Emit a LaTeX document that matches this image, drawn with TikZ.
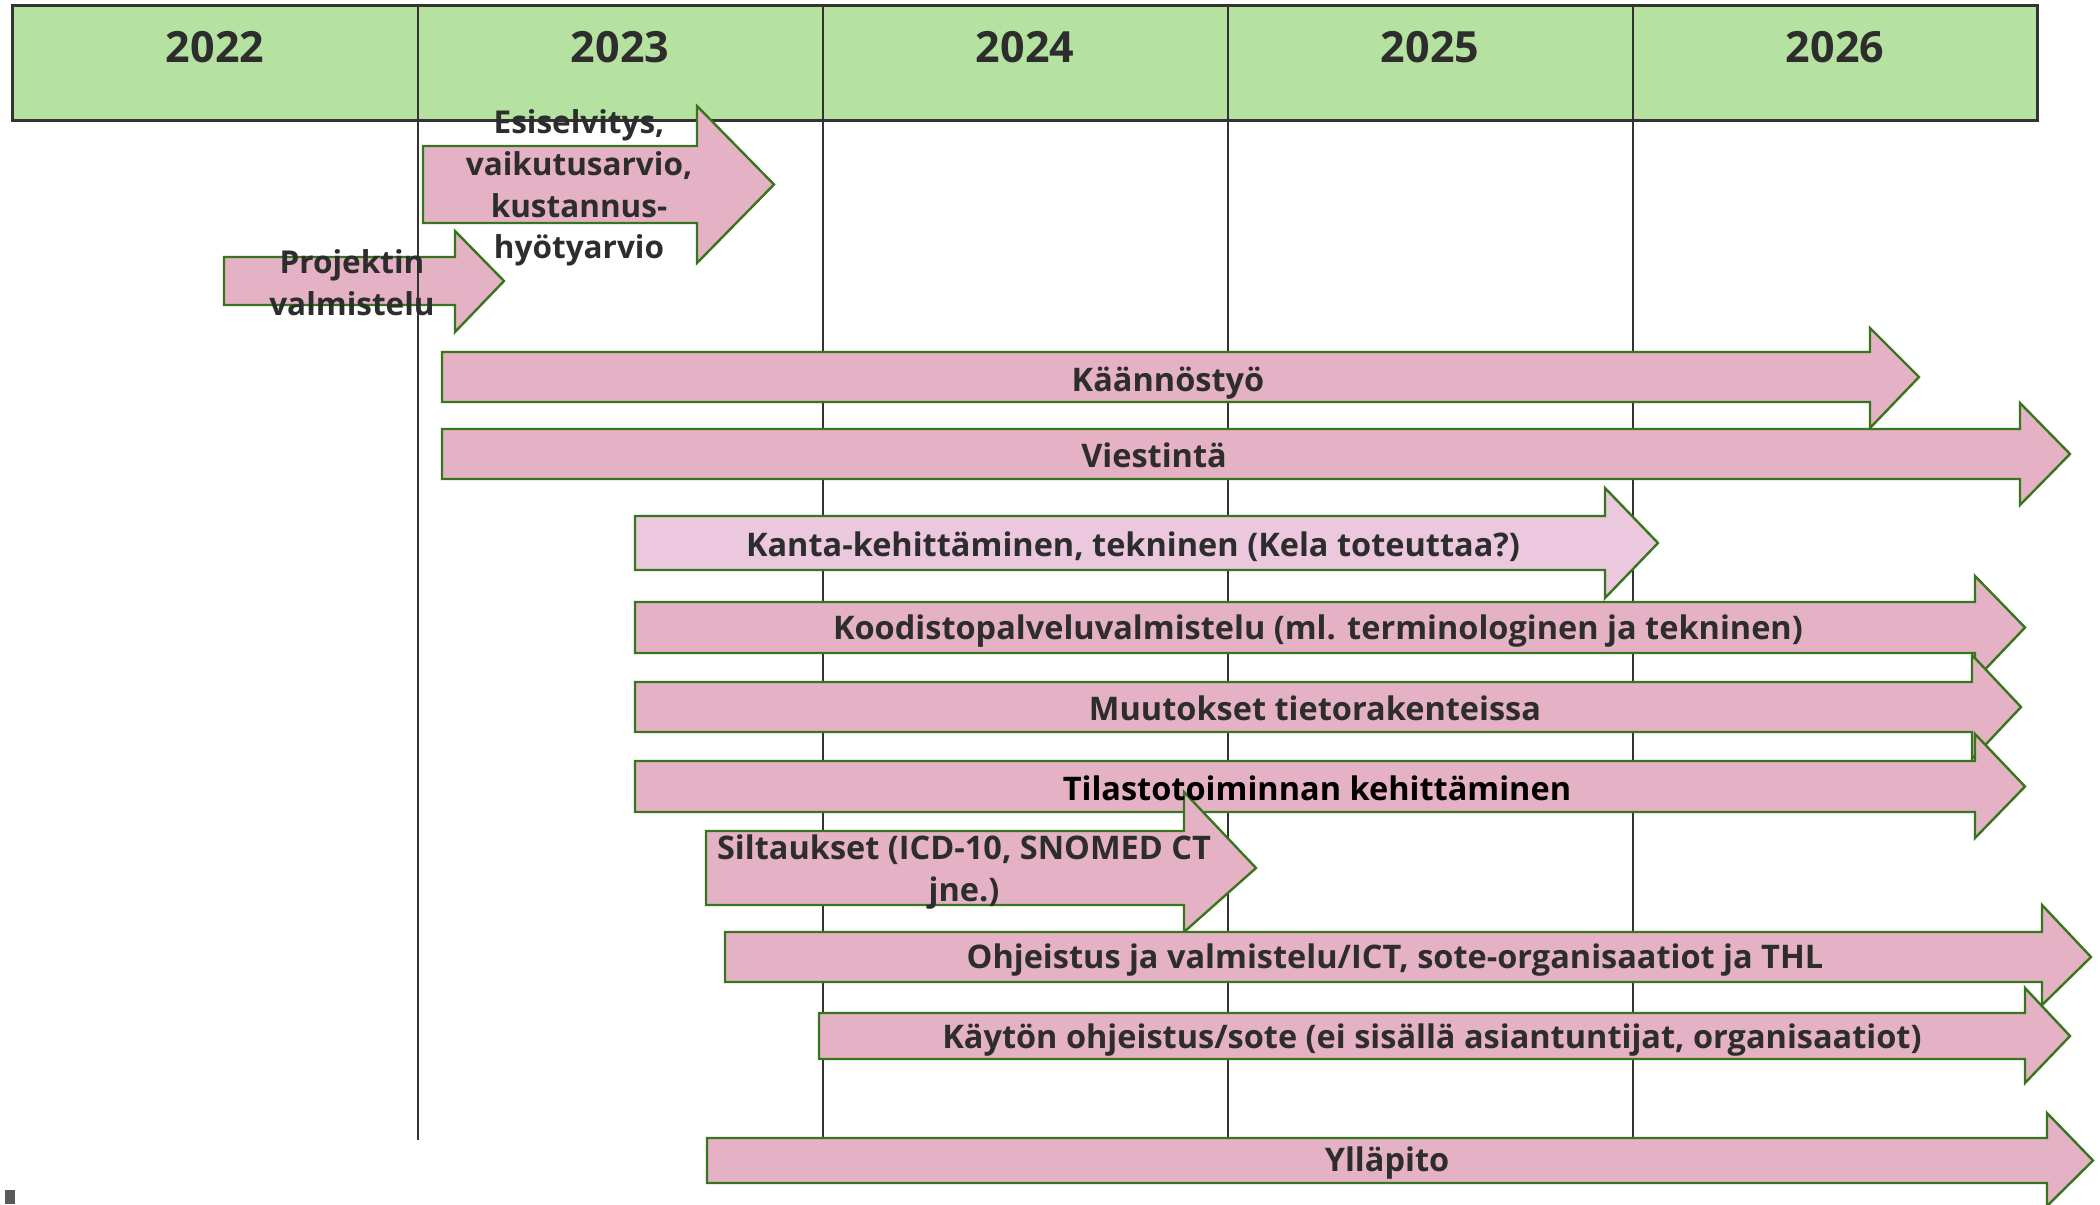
\documentclass[tikz,border=0pt]{standalone}
\usepackage{fontspec}
\setmainfont{Open Sans}
\definecolor{hdrgreen}{RGB}{182,226,161}
\definecolor{arrpink}{RGB}{229,178,197}
\definecolor{arrlight}{RGB}{235,200,221}
\definecolor{arrline}{RGB}{56,118,29}
\definecolor{gridgray}{RGB}{51,51,51}
\definecolor{txtgray}{RGB}{45,45,45}
\definecolor{markgray}{RGB}{90,90,90}
\tikzset{
  arrbox/.style={fill=arrpink, draw=arrline, line width=2.4pt, line join=miter},
  arrlite/.style={arrbox, fill=arrlight},
  gridline/.style={draw=gridgray, line width=2pt},
  hdrframe/.style={draw=gridgray, line width=3pt},
  yearlbl/.style={font=\bfseries\fontsize{43}{50}\selectfont, text=txtgray, inner sep=0pt},
  lbl/.style={font=\bfseries\fontsize{32.5}{41.8}\selectfont, text=txtgray, inner sep=0pt, align=center},
  lblnarrow/.style={lbl, font=\bfseries\fontsize{31.5}{41.8}\selectfont},
}
% #1 style, #2 x0, #3 body top, #4 body bottom, #5 head base x, #6 head top, #7 head bottom, #8 tip x
\newcommand\harr[8]{\path[#1] (#2,#3) -- (#5,#3) -- (#5,#6) -- (#8,{(#3+#4)/2}) -- (#5,#7) -- (#5,#4) -- (#2,#4) -- cycle;}
\begin{document}
\begin{tikzpicture}[x=1pt,y=-1pt]
\useasboundingbox (0,0) rectangle (2100,1204);
% header
\fill[hdrgreen] (12,6) rectangle (2037,121);
\foreach \xx in {823,1228,1633} {\draw[gridline] (\xx,6) -- (\xx,1137);}
\draw[hdrframe] (12,6) rectangle (2037,121);
\node[yearlbl] (y22) at (215,47) {2022};
\node[yearlbl] (y23) at (620,47) {2023};
\node[yearlbl] (y24) at (1025,47) {2024};
\node[yearlbl] (y25) at (1430,47) {2025};
\node[yearlbl] (y26) at (1835,47) {2026};
% arrows
\harr{arrbox}{423}{146}{223}{697}{106}{263}{774}
\harr{arrbox}{224}{257}{305}{455}{231}{332}{504}
\draw[gridline] (418,6) -- (418,1140);
\harr{arrbox}{442}{352}{402}{1870}{328}{428}{1919}
\harr{arrbox}{442}{429}{479}{2020}{403}{505}{2070}
\harr{arrlite}{635}{516}{570}{1605}{488}{598}{1658}
\harr{arrbox}{635}{602}{653}{1975}{576}{680}{2025}
\harr{arrbox}{635}{682}{732}{1972}{655}{759}{2021}
\harr{arrbox}{635}{761}{812}{1975}{734}{838}{2025}
\harr{arrbox}{706}{831}{905}{1184}{792}{932}{1256}
\harr{arrbox}{725}{932}{982}{2042}{905}{1005}{2091}
\harr{arrbox}{819}{1013}{1059}{2025}{988}{1083}{2070}
\harr{arrbox}{707}{1138}{1183}{2047}{1113}{1206}{2093}
% labels
\node[lblnarrow] (tEsi) at (579,188) {Esiselvitys,\\vaikutusarvio,\\kustannus-\\hyötyarvio};
\node[lblnarrow] (tPro) at (352,283) {Projektin\\valmistelu};
\node[lbl] (tKaa) at (1168,383) {Käännöstyö};
\node[lbl] (tVie) at (1154,455) {Viestintä};
\node[lbl] (tKan) at (1133,547) {Kanta-kehittäminen, tekninen (Kela toteuttaa?)};
\node[lbl] (tKoo) at (1318,631) {Koodistopalveluvalmistelu (ml. terminologinen ja tekninen)};
\node[lbl] (tMuu) at (1315,708) {Muutokset tietorakenteissa};
\node[lbl, text=black] (tTil) at (1317,788) {Tilastotoiminnan kehittäminen};
\node[lbl] (tSil) at (964,872) {Siltaukset (ICD-10, SNOMED CT\\jne.)};
\node[lbl] (tOhj) at (1395,960) {Ohjeistus ja valmistelu/ICT, sote-organisaatiot ja THL};
\node[lbl] (tKay) at (1432,1040) {Käytön ohjeistus/sote (ei sisällä asiantuntijat, organisaatiot)};
\node[lbl] (tYll) at (1387,1163) {Ylläpito};
% stray mark bottom left
\fill[markgray] (5,1190) rectangle (15,1204);
\end{tikzpicture}
\end{document}
